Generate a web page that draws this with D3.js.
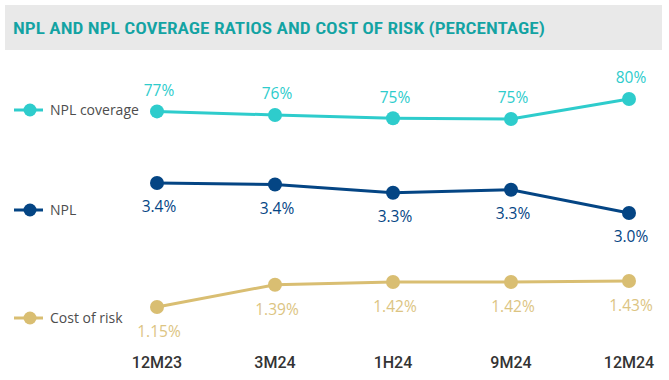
<!DOCTYPE html>
<html>
<head>
<meta charset="utf-8">
<script src="https://cdn.jsdelivr.net/npm/d3@7"></script>
<style>
  body { margin: 0; background: #fff; }
  text { font-family: "Open Sans", "Noto Sans", sans-serif; }
</style>
</head>
<body>
<div id="chart"></div>
<script>
const w = 669;
const h = 380;

const periods = ["12M23", "3M24", "1H24", "9M24", "12M24"];
const coverage = [76.9, 76.0, 75.2, 75.0, 80.0];
const npl = [3.41, 3.39, 3.28, 3.32, 3.01];
const costOfRisk = [1.15, 1.39, 1.42, 1.42, 1.43];
const seriesNames = ["NPL coverage", "NPL", "Cost of risk"];

const svg = d3.select("#chart")
  .append("svg")
  .attr("width", w)
  .attr("height", h);

// header band
svg.append("rect")
  .attr("x", 5).attr("y", 5)
  .attr("width", 657).attr("height", 45)
  .attr("fill", "#e9e9e9");
svg.append("text")
  .attr("x", 13).attr("y", 34)
  .attr("fill", "#13a3a3")
  .style("font-family", "'Roboto Condensed', 'Liberation Sans Narrow', 'DejaVu Sans Condensed', sans-serif")
  .style("font-weight", "600")
  .style("font-size", "17px")
  .attr("textLength", 532)
  .attr("lengthAdjust", "spacingAndGlyphs")
  .text("NPL AND NPL COVERAGE RATIOS AND COST OF RISK (PERCENTAGE)");

const x = d3.scalePoint()
  .domain(periods)
  .range([157, 629]);

// each series sits in its own band with its own scale
const series = [
  { name: seriesNames[0], values: coverage, color: "#2ecccc", labelColor: "#2ecccc",
    y: d3.scaleLinear().domain([75, 80]).range([119, 99]),
    fmt: d3.format(".0f"), dy: -21, legendY: 110 },
  { name: seriesNames[1], values: npl, color: "#044584", labelColor: "#044584",
    y: d3.scaleLinear().domain([3.0, 3.4]).range([213.7, 183.7]),
    fmt: d3.format(".1f"), dy: 24, legendY: 210 },
  { name: seriesNames[2], values: costOfRisk, color: "#d9be72", labelColor: "#dcc482",
    y: d3.scaleLinear().domain([1.15, 1.43]).range([307, 281]),
    fmt: d3.format(".2f"), dy: 25, legendY: 318 }
];

const line = d3.line();

series.forEach(function(s) {
  const pts = s.values.map((v, i) => [x(periods[i]), s.y(v)]);

  svg.append("path")
    .attr("d", line(pts))
    .attr("fill", "none")
    .attr("stroke", s.color)
    .attr("stroke-width", 3);

  svg.selectAll(null)
    .data(pts)
    .enter().append("circle")
    .attr("cx", d => d[0])
    .attr("cy", d => d[1])
    .attr("r", 7)
    .attr("fill", s.color);

  svg.selectAll(null)
    .data(s.values)
    .enter().append("text")
    .attr("x", (d, i) => x(periods[i]) + 2)
    .attr("y", (d, i) => s.y(d) + s.dy)
    .attr("dy", "0.35em")
    .attr("text-anchor", "middle")
    .attr("fill", s.labelColor)
    .style("font-size", "15.5px")
    .text(d => s.fmt(d) + "%");

  // legend
  const lg = svg.append("g").attr("transform", "translate(0," + s.legendY + ")");
  lg.append("line")
    .attr("x1", 14).attr("x2", 43)
    .attr("stroke", s.color).attr("stroke-width", 3);
  lg.append("circle")
    .attr("cx", 30).attr("r", 6.5).attr("fill", s.color);
  lg.append("text")
    .attr("x", 50).attr("dy", "0.35em")
    .attr("fill", "#4d4d4d")
    .style("font-size", "14px")
    .text(s.name);
});

// category labels
svg.selectAll(".xlab")
  .data(periods)
  .enter().append("text")
  .attr("class", "xlab")
  .attr("x", d => x(d))
  .attr("y", 362)
  .attr("dy", "0.35em")
  .attr("text-anchor", "middle")
  .attr("fill", "#333")
  .style("font-family", "Roboto, sans-serif")
  .style("font-size", "16px")
  .style("font-weight", "500")
  .text(d => d);
</script>
</body>
</html>
